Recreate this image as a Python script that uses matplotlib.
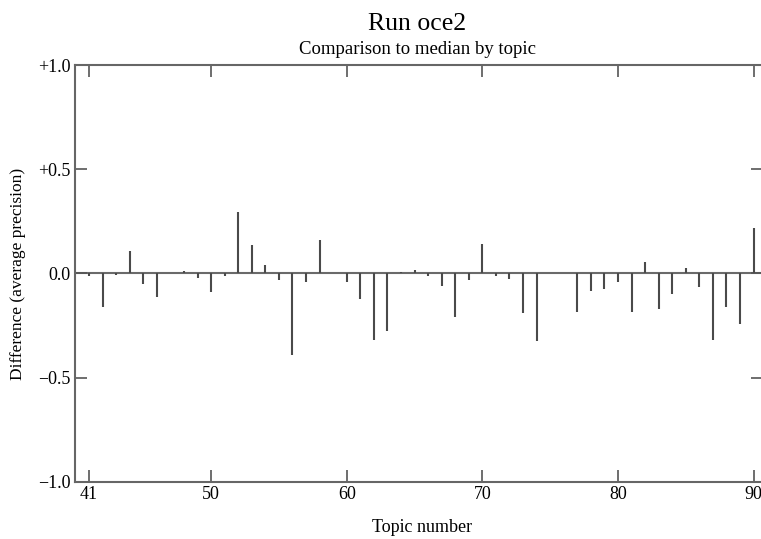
import matplotlib.pyplot as plt
import numpy as np

# 数据: 每个topic与中位数的差
topics = np.arange(41, 91)
diffs = [-0.01, -0.16, -0.005, 0.107, -0.05, -0.115, 0.0, 0.013, -0.022, -0.09,
         -0.01, 0.293, 0.135, 0.04, -0.032, -0.393, -0.04, 0.16, 0.0, -0.042,
         -0.122, -0.32, -0.276, 0.006, 0.016, -0.01, -0.06, -0.21, -0.032, 0.143,
         -0.012, -0.026, -0.19, -0.325, 0.0, 0.0, -0.183, -0.083, -0.075, -0.043,
         -0.183, 0.054, -0.168, -0.1, 0.027, -0.064, -0.32, -0.163, -0.243, 0.216]
xticks = [41, 50, 60, 70, 80, 90]
yticks = [-1.0, -0.5, 0.0, 0.5, 1.0]
ylabels = ['\u22121.0', '\u22120.5', '0.0', '+0.5', '+1.0']

plt.rcParams['font.family'] = ['Liberation Serif', 'DejaVu Serif']

fig = plt.figure(figsize=(7.61, 5.39), dpi=100)
# 右边框在图片外面一点
ax = fig.add_axes([0.0986, 0.1058, 0.904, 0.7736])

gray = '#4a4a4a'
ax.axhline(0, color='#6a6a6a', lw=1.5, zorder=1)
ax.vlines(topics, 0, diffs, color=gray, lw=1.5, zorder=2)

ax.set_xlim(39.97, 90.69)
ax.set_ylim(-1, 1)
ax.set_xticks(xticks)
ax.set_yticks(yticks)
ax.set_yticklabels(ylabels)
ax.tick_params(direction='in', length=8.5, width=1.2, color='#555555',
               labelsize=13, top=True, right=True, pad=3)
for s in ax.spines.values():
    s.set_color('#666666')
    s.set_linewidth(1.5)

fig.text(0.554, 0.013, 'Topic number', ha='center', va='baseline', fontsize=13)
fig.text(0.0237, 0.4926, 'Difference (average precision)', ha='center', va='center',
         rotation=90, fontsize=12.5)
fig.text(0.548, 0.9443, 'Run oce2', ha='center', va='baseline', fontsize=18.5)
fig.text(0.548, 0.9007, 'Comparison to median by topic', ha='center', va='baseline', fontsize=13.5)

fig.savefig('out.png', dpi=100)
